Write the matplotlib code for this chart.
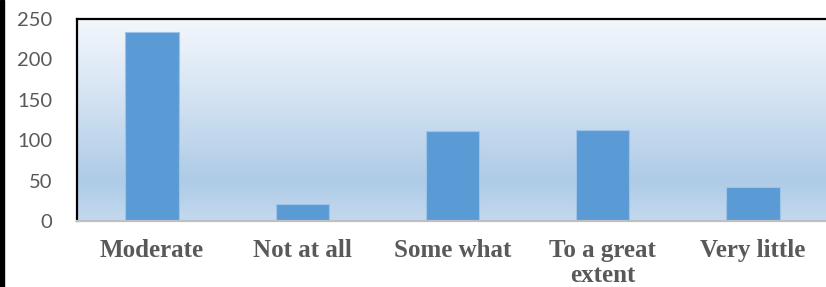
import numpy as np
import matplotlib.pyplot as plt
from matplotlib.colors import LinearSegmentedColormap
from matplotlib.patches import Rectangle

# data
categories = ["Moderate", "Not at all", "Some what", "To a great\nextent", "Very little"]
counts = [234, 21, 111, 113, 42]
yticks = [0, 50, 100, 150, 200, 250]

W, H = 826, 287
fig = plt.figure(figsize=(W / 100, H / 100), dpi=100)
ax = fig.add_axes([77 / W, (H - 221) / H, (828 - 77) / W, (221 - 19) / H])

# gradient background of the plot area
grad = LinearSegmentedColormap.from_list(
    "bg", [(0.0, "#c4d9ef"), (0.2, "#aecbe7"), (0.6, "#d3e2f2"), (1.0, "#f3f7fc")]
)
ax.imshow(
    np.linspace(0, 1, 256).reshape(-1, 1),
    cmap=grad,
    aspect="auto",
    origin="lower",
    extent=[0, 1, 0, 1],
    transform=ax.transAxes,
    zorder=0,
)

index = np.arange(len(categories))
ax.bar(index, counts, width=0.355, color="#5b9bd5", edgecolor="#9dc3e6",
       linewidth=0.8, zorder=2)

ax.set_xlim(-0.5, len(categories) - 0.5)
ax.set_ylim(0, 250)
ax.set_yticks(yticks)
ax.set_yticklabels([str(t) for t in yticks], family="Lato", fontsize=14.5, color="#595959")
ax.set_xticks(index)
ax.set_xticklabels(categories, family="Liberation Serif", fontweight="bold",
                   fontsize=18, color="#595959", linespacing=1.12)
ax.tick_params(axis="both", length=0)
ax.tick_params(axis="x", pad=13)
ax.tick_params(axis="y", pad=18)

ax.spines["left"].set_color("black")
ax.spines["left"].set_linewidth(1.6)
ax.spines["top"].set_color("black")
ax.spines["top"].set_linewidth(1.6)
ax.spines["bottom"].set_color("#bfbfbf")
ax.spines["bottom"].set_linewidth(1.6)
ax.spines["right"].set_visible(False)

# black strip on the left edge of the image
fig.patches.append(Rectangle((0, 0), 4 / W, 1, transform=fig.transFigure,
                             color="black", zorder=5))

fig.savefig("out.png", dpi=100)
